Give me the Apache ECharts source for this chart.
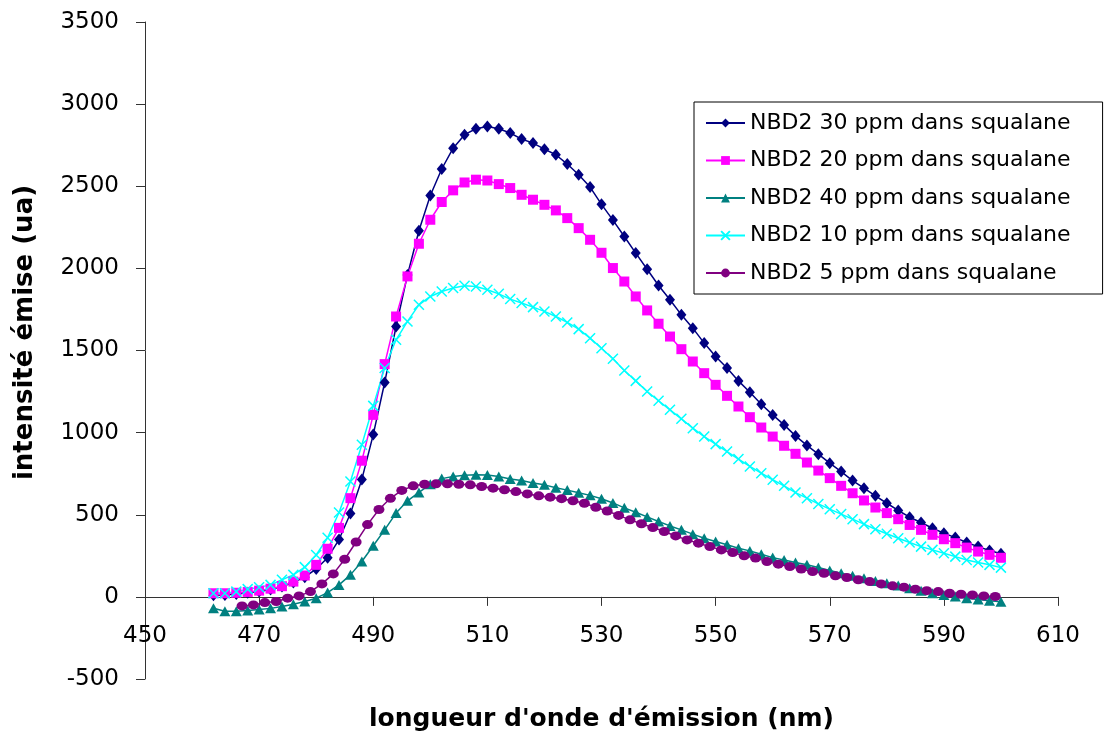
<!DOCTYPE html>
<html>
<head>
<meta charset="utf-8">
<script src="https://cdn.jsdelivr.net/npm/echarts@6/dist/echarts.min.js"></script>
<style>
html,body{margin:0;padding:0;background:#fff;}
#c{width:1106px;height:738px;}
</style>
</head>
<body>
<div id="c"></div>
<script>
// wavelengths (nm) for the 30, 20, 40 and 10 ppm series
const wl = [
462,464,466,468,470,472,474,476,478,480,
482,484,486,488,490,492,494,496,498,500,
502,504,506,508,510,512,514,516,518,520,
522,524,526,528,530,532,534,536,538,540,
542,544,546,548,550,552,554,556,558,560,
562,564,566,568,570,572,574,576,578,580,
582,584,586,588,590,592,594,596,598,600];

// wavelengths (nm) for the 5 ppm series
const wl5 = [
467,469,471,473,475,477,479,481,483,485,
487,489,491,493,495,497,499,501,503,505,
507,509,511,513,515,517,519,521,523,525,
527,529,531,533,535,537,539,541,543,545,
547,549,551,553,555,557,559,561,563,565,
567,569,571,573,575,577,579,581,583,585,
587,589,591,593,595,597,599];

const s30 = [
10,12,18,25,33,45,63,88,120,170,
238,349,508,715,988,1305,1646,1960,2229,2444,
2605,2732,2814,2850,2864,2850,2824,2787,2763,2726,
2692,2635,2570,2495,2390,2294,2194,2093,1995,1896,
1809,1717,1636,1545,1464,1393,1315,1246,1173,1108,
1047,980,922,869,814,763,708,662,615,570,
526,485,453,418,388,361,331,306,282,262];

const s20 = [
22,22,25,30,38,50,65,93,130,195,
293,420,601,829,1108,1417,1707,1951,2150,2296,
2404,2475,2523,2540,2535,2513,2489,2448,2418,2387,
2353,2306,2245,2174,2095,2002,1920,1829,1744,1663,
1585,1508,1433,1362,1291,1224,1159,1094,1031,976,
920,871,818,769,723,676,631,587,544,510,
473,438,408,378,351,327,300,276,256,238];

const s40 = [
-69,-88,-87,-83,-77,-70,-58,-45,-28,-8,
26,73,134,215,311,408,510,585,636,685,
720,733,740,743,742,733,718,708,693,682,
664,650,634,618,597,572,542,515,487,459,
432,408,382,357,337,317,296,280,260,239,
225,209,195,179,160,144,128,114,97,83,
69,53,38,22,12,2,-8,-16,-24,-30];

const s10 = [
22,22,32,47,59,73,104,134,181,255,
360,514,702,926,1163,1393,1565,1677,1778,1829,
1859,1880,1894,1890,1870,1845,1813,1789,1764,1738,
1707,1671,1630,1575,1514,1450,1378,1315,1250,1194,
1139,1084,1027,976,930,885,839,794,753,713,
676,635,601,566,534,504,473,443,412,384,
357,331,306,286,266,245,225,209,195,178];

const s5 = [
-55,-49,-35,-28,-8,6,32,79,140,229,
334,440,532,600,648,676,686,688,688,686,
682,672,662,652,641,627,615,607,598,585,
570,546,523,496,469,445,422,398,371,347,
327,306,286,270,250,236,215,199,185,169,
154,144,128,118,104,93,79,67,59,47,
38,32,22,16,12,6,2];

const names = [
  'NBD2 30 ppm dans squalane',
  'NBD2 20 ppm dans squalane',
  'NBD2 40 ppm dans squalane',
  'NBD2 10 ppm dans squalane',
  'NBD2 5 ppm dans squalane'
];

const xTicks = {min: 450, max: 610, step: 20};
const yTicks = {min: -500, max: 3500, step: 500};

const FONT = 'DejaVu Sans';
const GRID = {left: 145, right: 48, top: 22, bottom: 59};
const H = 738;

// x axis crosses the value axis at y = 0: shift it up from the grid bottom
const plotH = H - GRID.top - GRID.bottom;
const zeroShift = plotH * (0 - yTicks.min) / (yTicks.max - yTicks.min);

function pairs(xs, ys){ return xs.map((x,i)=>[x, ys[i]]); }

function mkSeries(name, xs, ys, color, symbol, size, extra){
  return Object.assign({
    name: name,
    type: 'line',
    data: pairs(xs, ys),
    symbol: symbol,
    symbolSize: size,
    showSymbol: true,
    showAllSymbol: true,
    smooth: false,
    lineStyle: {color: color, width: 1.5},
    itemStyle: {color: color, borderColor: color, borderWidth: 0},
    emphasis: {disabled: true},
    animation: false
  }, extra || {});
}

const chart = echarts.init(document.getElementById('c'), null, {renderer: 'canvas'});
chart.setOption({
  backgroundColor: '#ffffff',
  animation: false,
  textStyle: {fontFamily: FONT},
  grid: Object.assign({containLabel: false, outerBoundsMode: 'none'}, GRID),
  legend: {
    orient: 'vertical',
    left: 694,
    top: 102,
    padding: [9, 32, 9, 11],
    itemWidth: 39,
    itemHeight: 11,
    itemGap: 13.5,
    borderColor: '#000',
    borderWidth: 1,
    backgroundColor: '#fff',
    textStyle: {fontFamily: FONT, fontSize: 22, color: '#000', lineHeight: 24},
    data: names
  },
  xAxis: {
    type: 'value',
    min: xTicks.min, max: xTicks.max, interval: xTicks.step,
    offset: -zeroShift,
    name: "longueur d'onde d'émission (nm)",
    nameLocation: 'middle',
    nameGap: 110,
    nameTextStyle: {fontFamily: FONT, fontSize: 25, fontWeight: 'bold', color: '#000'},
    axisLine: {onZero: false, lineStyle: {color: '#333', width: 1}},
    axisTick: {show: true, length: 9, lineStyle: {color: '#333'}},
    axisLabel: {fontFamily: FONT, fontSize: 23, color: '#000', margin: 28, formatter: v => String(v)},
    splitLine: {show: false}
  },
  yAxis: {
    type: 'value',
    min: yTicks.min, max: yTicks.max, interval: yTicks.step,
    name: 'intensité émise (ua)',
    nameLocation: 'middle',
    nameGap: 107,
    nameTextStyle: {fontFamily: FONT, fontSize: 26, fontWeight: 'bold', color: '#000', padding: [0, 0, 0, 36]},
    axisLine: {onZero: false, show: true, lineStyle: {color: '#333', width: 1}},
    axisTick: {show: true, length: 9, lineStyle: {color: '#333'}},
    axisLabel: {fontFamily: FONT, fontSize: 23, color: '#000', margin: 26, formatter: v => String(v)},
    splitLine: {show: false}
  },
  series: [
    mkSeries(names[0], wl, s30, '#000080', 'diamond', [10, 12]),
    mkSeries(names[1], wl, s20, '#FF00FF', 'rect', 10),
    mkSeries(names[2], wl, s40, '#008080', 'triangle', [11, 10]),
    mkSeries(names[3], wl, s10, '#00FFFF', 'path://M0,0L10,10M10,0L0,10', 10,
      {itemStyle: {color: '#00FFFF', borderColor: '#00FFFF', borderWidth: 1.5}}),
    mkSeries(names[4], wl5, s5, '#800080', 'circle', [11, 9])
  ]
});
</script>
</body>
</html>
